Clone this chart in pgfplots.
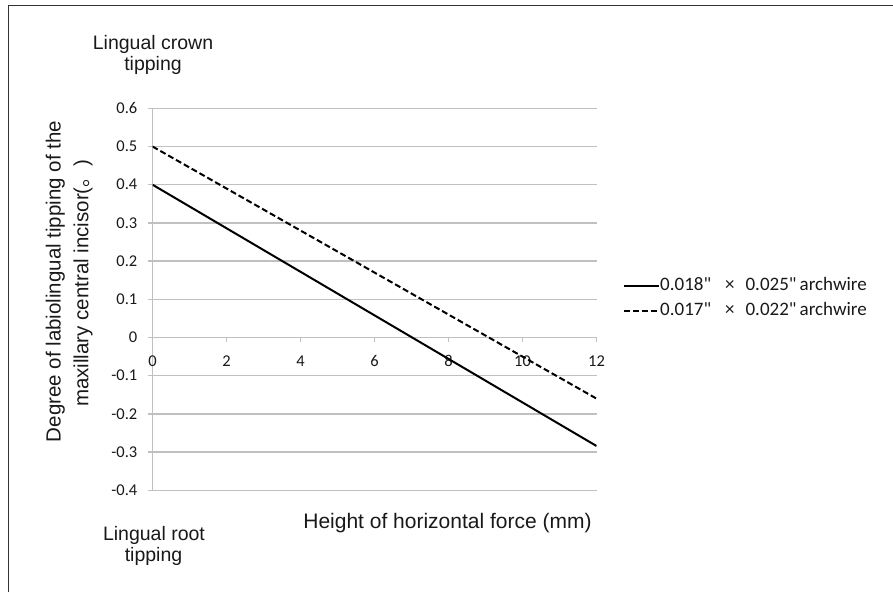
\documentclass[border=0pt]{standalone}
\usepackage{pgfplots}
\pgfplotsset{compat=1.18}
\usepackage{fontspec}
\setmainfont{Liberation Sans}
\newfontfamily\calib{Carlito}
\newfontfamily\cjk{Noto Sans CJK SC}
\definecolor{gridgray}{RGB}{192,192,192}
\definecolor{txt}{RGB}{25,25,25}
\begin{document}
\begin{tikzpicture}
\useasboundingbox (0pt,0pt) rectangle (893pt,592pt);
\draw[line width=1.4pt, black!80] (8.3pt,0pt) -- (8.3pt,586.7pt) -- (893pt,586.7pt);
\begin{axis}[
  at={(152.5pt,101.7pt)}, anchor=south west,
  scale only axis, width=444pt, height=382pt,
  xmin=0, xmax=12, ymin=-0.4, ymax=0.6,
  axis x line*=middle, axis y line*=left,
  hide obscured x ticks=false, hide obscured y ticks=false,
  axis line style={gridgray, line width=1.3pt},
  xtick={0,2,4,6,8,10,12}, xticklabels={0,2,4,6,8,10,12},
  ytick={-0.4,-0.3,-0.2,-0.1,0,0.1,0.2,0.3,0.4,0.5,0.6},
  yticklabels={-0.4,-0.3,-0.2,-0.1,0,0.1,0.2,0.3,0.4,0.5,0.6},
  ymajorgrids, grid style={gridgray, line width=1.3pt},
  tick style={gridgray, line width=1.3pt},
  tick align=outside, major tick length=5pt,
  xticklabel style={font=\calib\fontsize{16.5pt}{18pt}\selectfont, text=txt, inner sep=0pt, anchor=north, yshift=-13pt},
  yticklabel style={font=\calib\fontsize{16.5pt}{18pt}\selectfont, text=txt, inner sep=0pt, anchor=east, xshift=-10pt},
  legend style={at={(1.0597,0.5026)}, anchor=west, draw=none, fill=none, inner sep=0pt, row sep=10pt, column sep=0pt,
    font=\calib\fontsize{19pt}{20pt}\selectfont, text=txt,
    nodes={inner sep=0pt, text height=12pt, text depth=3pt}},
  legend cell align=left,
  legend image code/.code={\draw[#1] (0pt,0pt) -- (35pt,0pt);},
]
\addplot[black, line width=2pt] coordinates {(0,0.4) (12,-0.284)};
\addlegendentry{0.018"\hspace{14pt}×\hspace{11pt}0.025"\,archwire}
\addplot[black, line width=2pt, dash pattern=on 6pt off 3pt] coordinates {(0,0.5) (12,-0.16)};
\addlegendentry{0.017"\hspace{14pt}×\hspace{11pt}0.022"\,archwire}
\end{axis}
\begin{scope}[every node/.style={text=txt}]
\node[rotate=90, anchor=base, font=\fontsize{20.5pt}{24pt}\selectfont] at (60.7pt,310.5pt) {Degree of labiolingual tipping of the};
\node[rotate=90, anchor=base, font=\fontsize{20.5pt}{24pt}\selectfont] at (88.3pt,308.6pt) {maxillary central incisor({\cjk 。})};
\node[anchor=base, font=\fontsize{19.5pt}{22pt}\selectfont] at (153pt,542.5pt) {Lingual crown};
\node[anchor=base, font=\fontsize{19.5pt}{22pt}\selectfont] at (153pt,521pt) {tipping};
\node[anchor=base, font=\fontsize{19.5pt}{22pt}\selectfont] at (154pt,52pt) {Lingual root};
\node[anchor=base, font=\fontsize{19.5pt}{22pt}\selectfont] at (153.5pt,31pt) {tipping};
\node[anchor=base, font=\fontsize{21pt}{24pt}\selectfont] at (447.5pt,63.7pt) {Height of horizontal force (mm)};
\end{scope}
\end{tikzpicture}
\end{document}
